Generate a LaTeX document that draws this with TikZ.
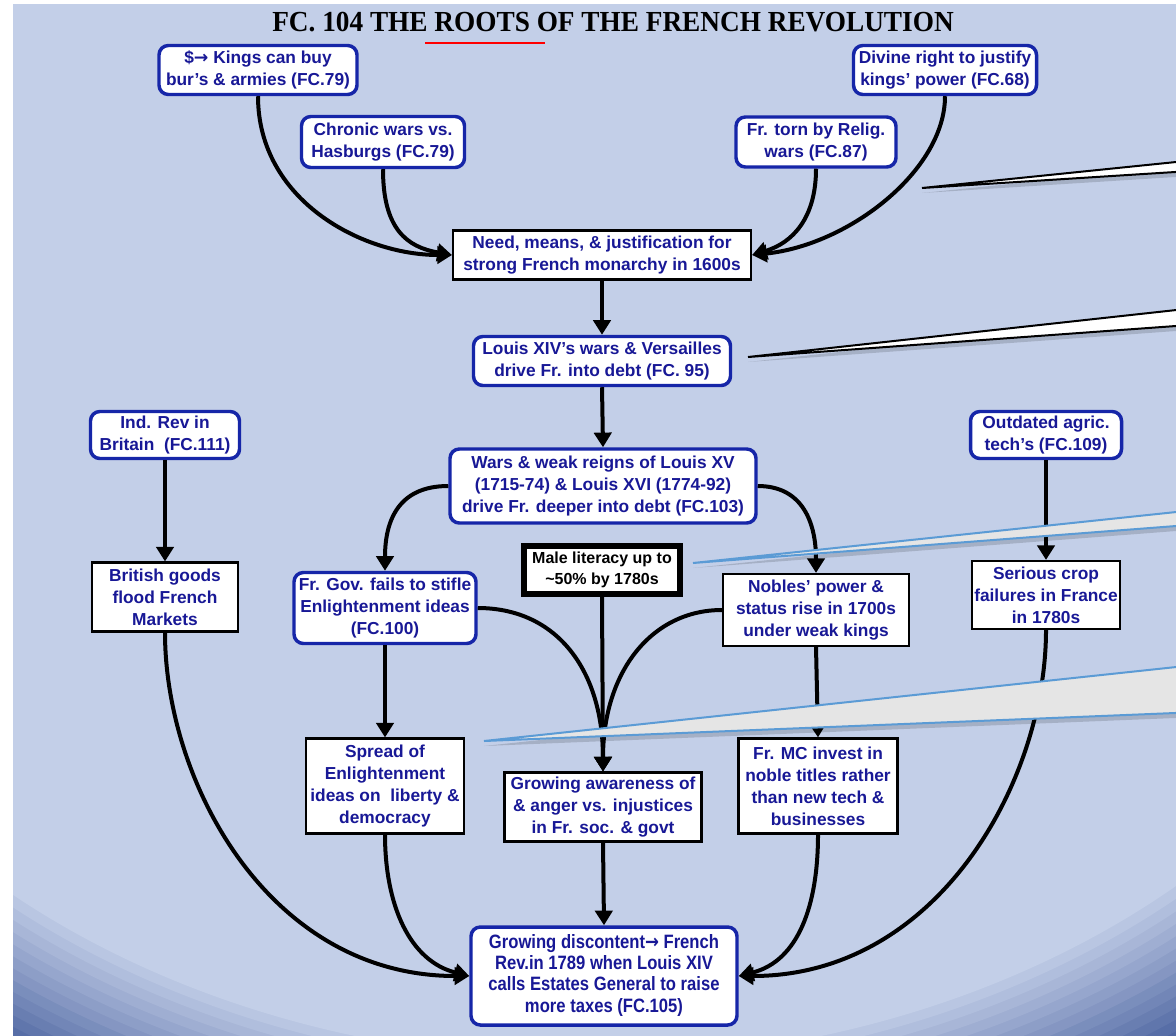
\documentclass[tikz,border=0pt]{standalone}
\usepackage{fontspec}
\setmainfont{Liberation Sans}
\newfontfamily\titlefont{Liberation Serif}
\newfontfamily\arrowfont{DejaVu Sans}
\usetikzlibrary{arrows.meta,calc}

\definecolor{bglight}{RGB}{195,207,232}
\definecolor{bgdark}{RGB}{70,94,156}
\definecolor{navytext}{RGB}{24,24,150}
\definecolor{boxblue}{RGB}{22,38,168}
\definecolor{calloutblue}{RGB}{91,155,213}
\definecolor{calloutgrey}{RGB}{229,229,229}

\newcommand{\rarr}{{\arrowfont\bfseries →}}

\tikzset{
  box/.style={fill=white, align=center, text=navytext, inner sep=1pt,
    font=\bfseries\fontsize{13}{16.4}\selectfont},
  bluebox/.style={box, draw=boxblue, line width=2.6pt, rounded corners=7pt},
  plainbox/.style={box, draw=black, line width=1.6pt},
  heavybox/.style={box, draw=black, line width=3.8pt, text=black,
    font=\bfseries\fontsize{12}{16}\selectfont},
  sz/.style 2 args={minimum width={#1*0.75pt}, minimum height={#2*0.75pt}},
  conn/.style={draw=black, line width=3pt, -{Triangle[length=11pt,width=13pt]}},
  pointerwhite/.style={fill=white, draw=black, line width=1.5pt, line join=miter},
  pointergrey/.style={fill=calloutgrey, draw=calloutblue, line width=1.5pt, line join=miter},
  pointershadow/.style={fill=black, opacity=0.15},
}

\begin{document}
\begin{tikzpicture}[x=0.75pt, y=-0.75pt]
\useasboundingbox (0,0) rectangle (1176,1035);
\fill[white] (0,0) rectangle (1176,1035);

% slide background: flat light blue, darkening towards the lower corners
\begin{scope}
  \clip (13,4) rectangle (1176,1035);
  \fill[bgdark] (13,4) rectangle (1176,1035);
  \foreach \i in {0,...,14}{
    \pgfmathsetmacro\s{1.20-0.2*\i/14}
    \pgfmathtruncatemacro\p{100*\i/14}
    \fill[bglight!\p!bgdark] (588,400) ellipse [x radius=869*\s, y radius=660*\s];
  }
\end{scope}

% title
\node (title) at (613,22) {\resizebox{511pt}{14.5pt}{\titlefont\bfseries FC. 104 THE ROOTS OF THE FRENCH REVOLUTION}};
\coordinate (ulA) at (425,43);
\coordinate (ulB) at (545,43);
\draw[red, line width=2pt] (ulA) -- (ulB);

% boxes
\node[bluebox, sz={198}{49}] (A) at (258,70) {\$\rarr{} Kings can buy\\bur’s \& armies (FC.79)};
\node[bluebox, sz={183}{49}] (B) at (945,70) {Divine right to justify\\kings’ power (FC.68)};
\node[bluebox, sz={163}{51}] (C) at (383,142) {Chronic wars vs.\\Hasburgs (FC.79)};
\node[bluebox, sz={160}{50}] (D) at (816,142) {Fr. torn by Relig.\\wars (FC.87)};
\node[plainbox, sz={298}{49}] (E) at (602,255) {Need, means, \& justification for\\strong French monarchy in 1600s};
\node[bluebox, sz={257}{49}] (F) at (602,361) {Louis XIV’s wars \& Versailles\\drive Fr. into debt (FC. 95)};
\node[bluebox, sz={149}{47}] (G) at (165,435) {Ind. Rev in\\Britain\ \ (FC.111)};
\node[bluebox, sz={151}{47}] (H) at (1046,435) {Outdated agric.\\tech’s (FC.109)};
\node[bluebox, sz={306}{74}] (I) at (603,486) {Wars \& weak reigns of Louis XV\\(1715-74) \& Louis XVI (1774-92)\\drive Fr. deeper into debt (FC.103)};
\node[plainbox, sz={146}{69}] (J) at (165,597) {British goods\\flood French\\Markets};
\node[bluebox, sz={182}{71}] (K) at (385,608) {Fr. Gov. fails to stifle\\Enlightenment ideas\\(FC.100)};
\node[heavybox, sz={156}{48}] (L) at (602,570) {Male literacy up to\\\textasciitilde50\% by 1780s};
\node[plainbox, sz={186}{72}] (M) at (816,610) {Nobles’ power \&\\status rise in 1700s\\under weak kings};
\node[plainbox, sz={148}{68}] (N) at (1046,595) {Serious crop\\failures in France\\in 1780s};
\node[plainbox, sz={158}{95}] (O) at (385,786) {Spread of\\Enlightenment\\ideas on\ \ liberty \&\\democracy};
\node[plainbox, sz={197}{69}] (P) at (603,807) {Growing awareness of\\\& anger vs. injustices\\in Fr. soc. \& govt};
\node[plainbox, sz={159}{95}] (Q) at (818,786) {Fr. MC invest in\\noble titles rather\\than new tech \&\\businesses};
\node[bluebox, sz={266}{98}] (R) at (604,976) {\scalebox{0.86}[1]{\fontsize{14.5}{16}\selectfont\begin{tabular}{@{}c@{}}Growing discontent\rarr{} French\\Rev.in 1789 when Louis XIV\\calls Estates General to raise\\more taxes (FC.105)\end{tabular}}};

% connectors
\draw[conn] (A.south) .. controls +(0,104) and +(-90,0) .. (E.west);
\draw[conn] (C.south) .. controls +(0,60) and +(-45,-8) .. (E.west);
\draw[conn] (B.south) .. controls +(0,74) and +(97,-10) .. (E.east);
\draw[conn] (D.south) .. controls +(0,50) and +(40,-12) .. (E.east);
\draw[conn] (E.south) -- (F.north);
\draw[conn] (F.south) -- (I.north);
\draw[conn] (G.south) -- (J.north);
\draw[conn] (H.south) -- (N.north);
\draw[conn] (I.west) .. controls +(-50,0) and +(0,-50) .. (K.north);
\draw[conn] (I.east) .. controls +(45,0) and +(0,-50) .. (M.north);
\draw[conn] (K.south) -- (O.north);
\draw[conn] (M.south) -- (Q.north);
\draw[conn] (K.east) .. controls +(80,0) and +(0,-100) .. (P.north);
\draw[conn] (M.west) .. controls +(-70,0) and +(0,-100) .. (P.north);
\draw[conn] (L.south) -- (P.north);
\draw[conn] (J.south) .. controls +(0,150) and +(-200,0) .. (R.west);
\draw[conn] (O.south) .. controls +(0,70) and +(-60,-15) .. (R.west);
\draw[conn] (P.south) -- (R.north);
\draw[conn] (Q.south) .. controls +(0,70) and +(60,-15) .. (R.east);
\draw[conn] (N.south) .. controls +(0,150) and +(200,0) .. (R.east);

% callout pointers entering from the right
\begin{scope}[shift={(0,5)}]
  \fill[pointershadow] (922,188) -- (1180,161.6) -- (1180,171.7) -- cycle;
  \fill[pointershadow] (748,357) -- (1180,309.6) -- (1180,325.7) -- cycle;
  \fill[pointershadow] (693,563) -- (1180,511.6) -- (1180,525.7) -- cycle;
  \fill[pointershadow] (484,741) -- (1180,666.6) -- (1180,712.8) -- cycle;
\end{scope}
\draw[pointerwhite] (922,188) -- (1180,161.6) -- (1180,171.7) -- cycle;
\draw[pointerwhite] (748,357) -- (1180,309.6) -- (1180,325.7) -- cycle;
\draw[pointergrey] (693,563) -- (1180,511.6) -- (1180,525.7) -- cycle;
\draw[pointergrey] (484,741) -- (1180,666.6) -- (1180,712.8) -- cycle;
\end{tikzpicture}
\end{document}
